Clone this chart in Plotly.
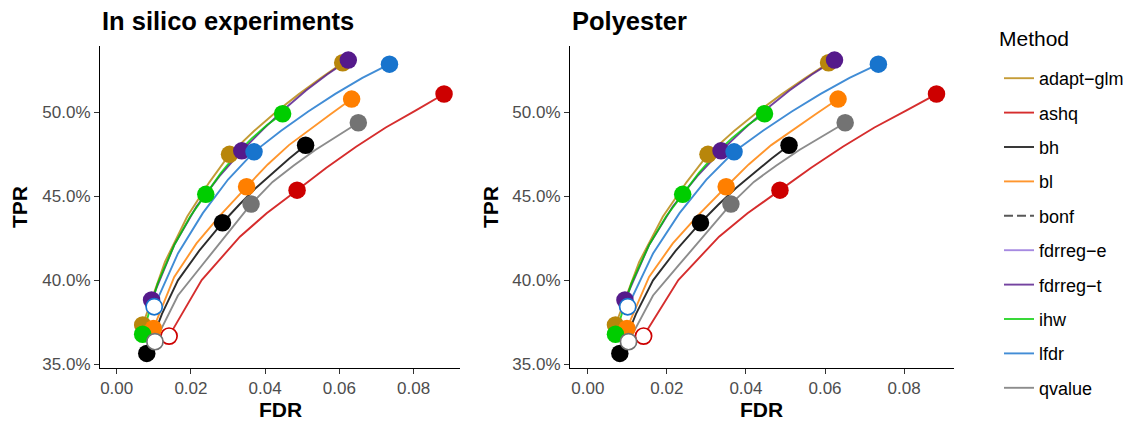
import plotly.graph_objects as go

# Nominal FDR levels; markers are drawn at 0.01, 0.05 and 0.10
alpha = [0.01, 0.02, 0.03, 0.04, 0.05, 0.06, 0.07, 0.08, 0.09, 0.10]
marker_idx = [0, 4, 9]

methods = ["adapt-glm", "ashq", "bh", "bl", "bonf",
           "fdrreg-e", "fdrreg-t", "ihw", "lfdr", "qvalue"]
labels = ["adapt\u2212glm", "ashq", "bh", "bl", "bonf",
          "fdrreg\u2212e", "fdrreg\u2212t", "ihw", "lfdr", "qvalue"]
colors = {
    "adapt-glm": "#B8860B", "ashq": "#CD0000", "bh": "#000000",
    "bl": "#FF7F00", "bonf": "#333333", "fdrreg-e": "#9370DB",
    "fdrreg-t": "#551A8B", "ihw": "#00CD00", "lfdr": "#1874CD",
    "qvalue": "#737373",
}

# Observed FDR per nominal level
fdr_adapt = [0.0070, 0.0130, 0.0190, 0.0250, 0.0304, 0.0370, 0.0430, 0.0490, 0.0550, 0.0609]
fdr_ashq = [0.0141, 0.0229, 0.0332, 0.0404, 0.0486, 0.0565, 0.0645, 0.0725, 0.0805, 0.0882]
fdr_bh = [0.0081, 0.0122, 0.0165, 0.0222, 0.0285, 0.0330, 0.0375, 0.0420, 0.0465, 0.0509]
fdr_bl = [0.0099, 0.0155, 0.0215, 0.0280, 0.0350, 0.0407, 0.0464, 0.0521, 0.0577, 0.0633]
fdr_fdrreg_t = [0.0094, 0.0155, 0.0215, 0.0277, 0.0337, 0.0395, 0.0452, 0.0510, 0.0567, 0.0624]
fdr_ihw = [0.0070, 0.0110, 0.0155, 0.0198, 0.0240, 0.0281, 0.0322, 0.0364, 0.0405, 0.0447]
fdr_lfdr = [0.0101, 0.0165, 0.0232, 0.0300, 0.0370, 0.0443, 0.0516, 0.0589, 0.0662, 0.0735]
fdr_qvalue = [0.0103, 0.0165, 0.0230, 0.0296, 0.0362, 0.0420, 0.0477, 0.0535, 0.0593, 0.0651]

# Observed TPR (%) per nominal level
tpr_adapt = [37.34, 41.10, 43.80, 45.85, 47.50, 48.89, 50.03, 51.07, 52.05, 52.95]
tpr_ashq = [36.68, 40.02, 42.60, 43.99, 45.37, 46.70, 47.95, 49.10, 50.10, 51.09]
tpr_bh = [35.65, 38.00, 40.00, 41.75, 43.43, 44.50, 45.50, 46.40, 47.25, 48.04]
tpr_bl = [37.14, 40.20, 42.20, 43.90, 45.57, 46.90, 48.05, 49.00, 49.90, 50.79]
tpr_fdrreg_t = [38.83, 42.10, 44.40, 46.20, 47.71, 49.00, 50.20, 51.30, 52.25, 53.11]
tpr_ihw = [36.79, 39.80, 42.10, 43.80, 45.12, 46.40, 47.50, 48.45, 49.25, 49.92]
tpr_lfdr = [38.43, 41.60, 44.00, 46.00, 47.65, 48.90, 50.05, 51.10, 52.05, 52.87]
tpr_qvalue = [36.35, 39.10, 40.90, 42.75, 44.54, 45.86, 46.84, 47.76, 48.59, 49.38]

curves = {
    "adapt-glm": (fdr_adapt, tpr_adapt),
    "ashq": (fdr_ashq, tpr_ashq),
    "bh": (fdr_bh, tpr_bh),
    "bl": (fdr_bl, tpr_bl),
    "bonf": ([], []),
    "fdrreg-e": ([], []),
    "fdrreg-t": (fdr_fdrreg_t, tpr_fdrreg_t),
    "ihw": (fdr_ihw, tpr_ihw),
    "lfdr": (fdr_lfdr, tpr_lfdr),
    "qvalue": (fdr_qvalue, tpr_qvalue),
}
# Methods whose point at the lowest nominal level is drawn hollow
hollow_first = ["ashq", "lfdr", "qvalue"]

panels = ["In silico experiments", "Polyester"]

W, H = 1133, 423
FONT = "Liberation Sans, Arial, sans-serif"

fig = go.Figure()

for p, _title in enumerate(panels):
    xa = "x" if p == 0 else "x2"
    ya = "y" if p == 0 else "y2"
    # lines first
    for m, lab in zip(methods, labels):
        fx, ty = curves[m]
        fig.add_trace(go.Scatter(
            x=fx if fx else [None], y=[v / 100 for v in ty] if ty else [None],
            mode="lines", name=lab, legendgroup=m, showlegend=(p == 0),
            line=dict(color=colors[m], width=1.9,
                      dash="9px,4px" if m == "bonf" else "solid"),
            opacity=0.82, xaxis=xa, yaxis=ya, hoverinfo="skip",
        ))
    # then points
    for m in methods:
        fx, ty = curves[m]
        if not fx:
            continue
        for k in marker_idx:
            hollow = (k == 0 and m in hollow_first)
            fig.add_trace(go.Scatter(
                x=[fx[k]], y=[ty[k] / 100], mode="markers", showlegend=False,
                legendgroup=m, xaxis=xa, yaxis=ya, hoverinfo="skip",
                marker=dict(
                    size=16.2 if hollow else 17.5,
                    color="white" if hollow else colors[m],
                    line=dict(color=colors[m], width=1.7 if hollow else 0),
                ),
            ))

x_dom = [(100 / W, 460 / W), (570 / W, 953.5 / W)]
y_dom = (1 - 367.7 / H, 1 - 46 / H)

def xaxis(dom, anchor):
    return dict(
        domain=list(dom), anchor=anchor, range=[-0.0045, 0.0925],
        tickvals=[0, 0.02, 0.04, 0.06, 0.08], tickformat=".2f",
        showline=True, linecolor="black", linewidth=1.2,
        ticks="outside", ticklen=5, tickwidth=1.1, tickcolor="#333333",
        tickfont=dict(size=17, color="#4D4D4D", family=FONT),
        showgrid=False, zeroline=False, automargin=False,
    )

def yaxis(anchor):
    return dict(
        domain=list(y_dom), anchor=anchor, range=[0.3480, 0.5395],
        tickvals=[0.35, 0.40, 0.45, 0.50], tickformat=".1%",
        showline=True, linecolor="black", linewidth=1.2,
        ticks="outside", ticklen=5, tickwidth=1.1, tickcolor="#333333",
        tickfont=dict(size=17, color="#4D4D4D", family=FONT),
        showgrid=False, zeroline=False, automargin=False,
    )

annotations = []
for p, title in enumerate(panels):
    x0, x1 = x_dom[p]
    annotations.append(dict(
        text=f"<b>{title}</b>", x=x0, y=1 - 21 / H, xref="paper", yref="paper",
        xanchor="left", yanchor="middle", showarrow=False,
        font=dict(size=25.5, color="black", family=FONT),
    ))
    annotations.append(dict(
        text="<b>FDR</b>", x=(x0 + x1) / 2, y=1 - 409 / H, xref="paper", yref="paper",
        xanchor="center", yanchor="middle", showarrow=False,
        font=dict(size=21, color="black", family=FONT),
    ))
    annotations.append(dict(
        text="<b>TPR</b>", x=(20 if p == 0 else 491) / W, y=1 - 207 / H,
        xref="paper", yref="paper", xanchor="center", yanchor="middle",
        textangle=-90, showarrow=False,
        font=dict(size=21, color="black", family=FONT),
    ))

# legend heading
annotations.append(dict(
    text="Method", x=997 / W, y=1 - 38 / H, xref="paper", yref="paper",
    xanchor="left", yanchor="middle", showarrow=False,
    font=dict(size=21, color="black", family=FONT),
))

fig.update_layout(
    width=W, height=H,
    margin=dict(l=0, r=0, t=0, b=0),
    paper_bgcolor="white", plot_bgcolor="white",
    xaxis=xaxis(x_dom[0], "y"), yaxis=yaxis("x"),
    xaxis2=xaxis(x_dom[1], "y2"), yaxis2=yaxis("x2"),
    annotations=annotations,
    showlegend=True,
    legend=dict(
        font=dict(size=18, color="black", family=FONT),
        x=999 / W, xanchor="left", y=1 - 60 / H, yanchor="top",
        tracegroupgap=8, traceorder="grouped",
        bgcolor="rgba(0,0,0,0)",
    ),
    font=dict(family=FONT),
)

fig.write_html("out.html")
